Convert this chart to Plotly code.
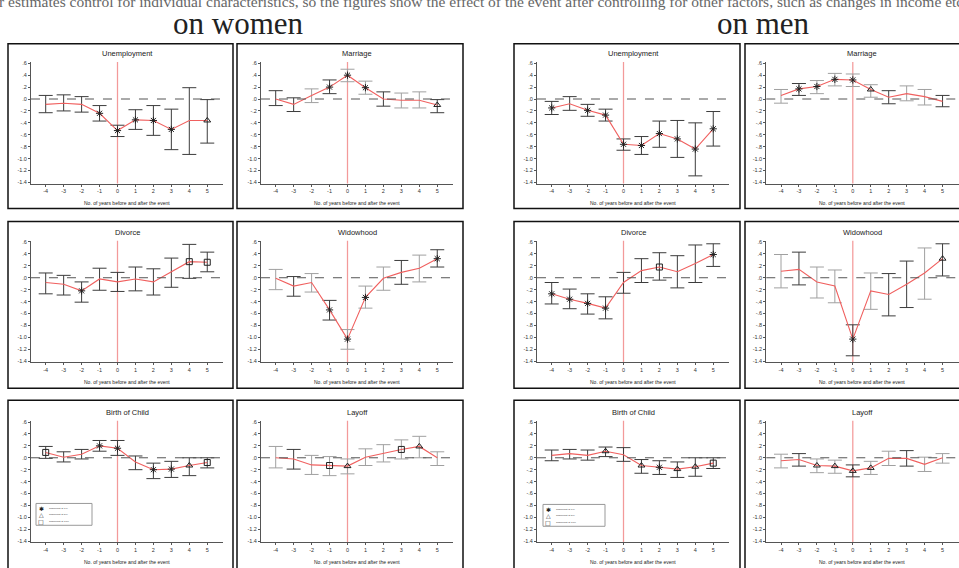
import plotly.graph_objects as go

W, H = 959, 568

YEARS = [-4, -3, -2, -1, 0, 1, 2, 3, 4, 5]
Y_TICKS = [0.6, 0.4, 0.2, 0.0, -0.2, -0.4, -0.6, -0.8, -1.0, -1.2, -1.4]
Y_TICK_LABELS = [".6", ".4", ".2", ".0", "-.2", "-.4", "-.6", "-.8", "-1.0", "-1.2", "-1.4"]
X_TICK_LABELS = ["-4", "-3", "-2", "-1", "0", "1", "2", "3", "4", "5"]

PANEL_TITLES = ["Unemployment", "Marriage", "Unemployment", "Marriage",
                "Divorce", "Widowhood", "Divorce", "Widowhood",
                "Birth of Child", "Layoff", "Birth of Child", "Layoff"]
X_TITLE = "No. of years before and after the event"
LEGEND_LABELS = ["Significant at 1%", "Significant at 5%", "Significant at 10%"]

# significance: 1 -> 1%, 5 -> 5%, 10 -> 10%, 0 -> not significant
# bar shade: "d" dark, "g" grey

# Women - Unemployment
W_UNEMP_EST = [-0.09, -0.07, -0.09, -0.24, -0.53, -0.35, -0.36, -0.51, -0.36, -0.36]
W_UNEMP_HI = [0.06, 0.07, 0.04, -0.11, -0.44, -0.18, -0.11, -0.17, 0.19, -0.01]
W_UNEMP_LO = [-0.23, -0.20, -0.22, -0.37, -0.63, -0.51, -0.61, -0.85, -0.93, -0.74]
W_UNEMP_SIG = [0, 0, 0, 1, 1, 1, 1, 1, 0, 5]
W_UNEMP_SHADE = ["d", "d", "d", "d", "d", "d", "d", "d", "d", "d"]

# Women - Marriage
W_MARR_EST = [0.00, -0.09, 0.06, 0.20, 0.40, 0.19, 0.00, -0.02, -0.02, -0.10]
W_MARR_HI = [0.14, 0.02, 0.17, 0.32, 0.50, 0.30, 0.12, 0.10, 0.12, -0.01]
W_MARR_LO = [-0.11, -0.21, -0.06, 0.09, 0.29, 0.08, -0.12, -0.15, -0.15, -0.23]
W_MARR_SIG = [0, 0, 0, 1, 1, 1, 0, 0, 0, 5]
W_MARR_SHADE = ["d", "d", "g", "d", "g", "g", "d", "g", "g", "d"]

# Men - Unemployment
M_UNEMP_EST = [-0.15, -0.08, -0.19, -0.27, -0.76, -0.78, -0.58, -0.67, -0.84, -0.50]
M_UNEMP_HI = [-0.04, 0.04, -0.09, -0.17, -0.67, -0.63, -0.37, -0.36, -0.40, -0.21]
M_UNEMP_LO = [-0.26, -0.19, -0.29, -0.37, -0.86, -0.93, -0.81, -0.98, -1.29, -0.79]
M_UNEMP_SIG = [1, 0, 1, 1, 1, 1, 1, 1, 1, 1]
M_UNEMP_SHADE = ["d", "d", "d", "d", "d", "d", "d", "d", "d", "d"]

# Men - Marriage
M_MARR_EST = [0.06, 0.17, 0.21, 0.33, 0.32, 0.16, 0.03, 0.09, 0.04, -0.04]
M_MARR_HI = [0.16, 0.26, 0.31, 0.43, 0.42, 0.24, 0.14, 0.22, 0.16, 0.06]
M_MARR_LO = [-0.07, 0.06, 0.09, 0.22, 0.21, 0.03, -0.08, -0.03, -0.10, -0.13]
M_MARR_SIG = [0, 1, 1, 1, 1, 5, 0, 0, 0, 0]
M_MARR_SHADE = ["g", "d", "g", "g", "g", "g", "d", "g", "g", "d"]

# Women - Divorce
W_DIV_EST = [-0.08, -0.11, -0.22, -0.02, -0.07, -0.02, -0.07, 0.10, 0.27, 0.26]
W_DIV_HI = [0.08, 0.04, -0.07, 0.16, 0.09, 0.18, 0.15, 0.33, 0.56, 0.43]
W_DIV_LO = [-0.27, -0.29, -0.41, -0.21, -0.23, -0.22, -0.29, -0.16, -0.01, 0.10]
W_DIV_SIG = [0, 0, 1, 0, 0, 0, 0, 0, 10, 10]
W_DIV_SHADE = ["d", "d", "d", "d", "d", "d", "d", "d", "d", "d"]

# Women - Widowhood
W_WID_EST = [-0.01, -0.14, -0.08, -0.54, -1.03, -0.33, -0.01, 0.09, 0.16, 0.32]
W_WID_HI = [0.14, 0.02, 0.07, -0.38, -0.87, -0.14, 0.18, 0.29, 0.38, 0.47]
W_WID_LO = [-0.20, -0.31, -0.24, -0.71, -1.20, -0.51, -0.21, -0.11, -0.07, 0.18]
W_WID_SIG = [0, 0, 0, 1, 1, 1, 0, 0, 0, 1]
W_WID_SHADE = ["g", "d", "g", "d", "g", "g", "g", "d", "g", "d"]

# Men - Divorce
M_DIV_EST = [-0.27, -0.36, -0.43, -0.51, -0.08, 0.12, 0.18, 0.10, 0.24, 0.39]
M_DIV_HI = [-0.08, -0.19, -0.27, -0.32, 0.09, 0.32, 0.42, 0.37, 0.55, 0.57]
M_DIV_LO = [-0.44, -0.52, -0.61, -0.69, -0.26, -0.08, -0.04, -0.17, -0.08, 0.19]
M_DIV_SIG = [1, 1, 1, 1, 0, 0, 10, 0, 0, 1]
M_DIV_SHADE = ["d", "d", "d", "d", "d", "d", "d", "d", "d", "d"]

# Men - Widowhood
M_WID_EST = [0.11, 0.14, -0.07, -0.14, -1.03, -0.22, -0.28, -0.11, 0.08, 0.32]
M_WID_HI = [0.39, 0.43, 0.18, 0.13, -0.79, 0.08, 0.07, 0.28, 0.50, 0.57]
M_WID_LO = [-0.17, -0.12, -0.34, -0.42, -1.31, -0.53, -0.64, -0.50, -0.36, 0.03]
M_WID_SIG = [0, 0, 0, 0, 1, 0, 0, 0, 0, 5]
M_WID_SHADE = ["g", "d", "g", "g", "d", "g", "d", "d", "g", "d"]

# Women - Birth of Child
W_BIRTH_EST = [0.09, 0.01, 0.06, 0.20, 0.16, -0.07, -0.20, -0.19, -0.13, -0.08]
W_BIRTH_HI = [0.19, 0.10, 0.14, 0.29, 0.29, 0.03, -0.09, -0.06, 0.00, 0.00]
W_BIRTH_LO = [-0.01, -0.07, -0.02, 0.11, 0.04, -0.20, -0.35, -0.33, -0.30, -0.17]
W_BIRTH_SIG = [10, 0, 0, 1, 1, 0, 1, 1, 5, 10]
W_BIRTH_SHADE = ["d", "d", "d", "d", "d", "d", "d", "d", "d", "d"]

# Women - Layoff
W_LAY_EST = [0.00, -0.02, -0.12, -0.13, -0.14, 0.01, 0.08, 0.14, 0.19, 0.00]
W_LAY_HI = [0.19, 0.14, 0.04, 0.02, -0.02, 0.15, 0.22, 0.30, 0.36, 0.10]
W_LAY_LO = [-0.17, -0.19, -0.28, -0.30, -0.27, -0.13, -0.07, -0.02, 0.00, -0.13]
W_LAY_SIG = [0, 0, 0, 10, 5, 0, 0, 10, 5, 0]
W_LAY_SHADE = ["g", "d", "g", "g", "g", "g", "g", "g", "g", "g"]

# Men - Birth of Child
M_BIRTH_EST = [0.04, 0.07, 0.04, 0.11, 0.05, -0.13, -0.16, -0.19, -0.15, -0.09]
M_BIRTH_HI = [0.13, 0.14, 0.13, 0.18, 0.17, -0.03, -0.05, -0.07, 0.00, 0.00]
M_BIRTH_LO = [-0.05, -0.02, -0.04, 0.02, -0.06, -0.26, -0.28, -0.33, -0.31, -0.18]
M_BIRTH_SIG = [0, 0, 0, 5, 0, 5, 1, 5, 5, 10]
M_BIRTH_SHADE = ["d", "d", "d", "d", "d", "d", "d", "d", "d", "d"]

# Men - Layoff
M_LAY_EST = [-0.05, -0.03, -0.13, -0.14, -0.22, -0.17, -0.01, -0.01, -0.11, 0.00]
M_LAY_HI = [0.06, 0.07, -0.02, -0.04, -0.12, -0.06, 0.11, 0.12, 0.01, 0.07]
M_LAY_LO = [-0.17, -0.14, -0.25, -0.26, -0.32, -0.28, -0.13, -0.14, -0.23, -0.09]
M_LAY_SIG = [0, 0, 5, 5, 5, 5, 0, 0, 0, 0]
M_LAY_SHADE = ["g", "d", "g", "g", "d", "g", "g", "d", "g", "g"]

PANELS = [
    (W_UNEMP_EST, W_UNEMP_LO, W_UNEMP_HI, W_UNEMP_SIG, W_UNEMP_SHADE),
    (W_MARR_EST, W_MARR_LO, W_MARR_HI, W_MARR_SIG, W_MARR_SHADE),
    (M_UNEMP_EST, M_UNEMP_LO, M_UNEMP_HI, M_UNEMP_SIG, M_UNEMP_SHADE),
    (M_MARR_EST, M_MARR_LO, M_MARR_HI, M_MARR_SIG, M_MARR_SHADE),
    (W_DIV_EST, W_DIV_LO, W_DIV_HI, W_DIV_SIG, W_DIV_SHADE),
    (W_WID_EST, W_WID_LO, W_WID_HI, W_WID_SIG, W_WID_SHADE),
    (M_DIV_EST, M_DIV_LO, M_DIV_HI, M_DIV_SIG, M_DIV_SHADE),
    (M_WID_EST, M_WID_LO, M_WID_HI, M_WID_SIG, M_WID_SHADE),
    (W_BIRTH_EST, W_BIRTH_LO, W_BIRTH_HI, W_BIRTH_SIG, W_BIRTH_SHADE),
    (W_LAY_EST, W_LAY_LO, W_LAY_HI, W_LAY_SIG, W_LAY_SHADE),
    (M_BIRTH_EST, M_BIRTH_LO, M_BIRTH_HI, M_BIRTH_SIG, M_BIRTH_SHADE),
    (M_LAY_EST, M_LAY_LO, M_LAY_HI, M_LAY_SIG, M_LAY_SHADE),
]

# ---------------- layout geometry (pixels) ----------------
COL_X4 = [45.7, 275.7, 551.7, 781.0]     # pixel of year -4
ROW_Y6 = [61.7, 241.7, 423.0]            # pixel of value .6
PX_YEAR = 17.95
PX_UNIT = 60.0
X_RANGE = [-4.82, 5.9]
Y_RANGE = [-1.42, 0.62]
COL_BOX = [(8, 233), (237, 463), (514, 740), (745, 968)]
ROW_BOX = [(42, 208), (221, 389), (401, 578)]

RED = "#f0605f"
PINK = "#f39a9a"
SHADES = {"d": "#3c3c3c", "g": "#a0a0a0"}
SYMBOLS = {1: "asterisk-open", 5: "triangle-up-open", 10: "square-open"}
FONT = "Liberation Sans, Arial, sans-serif"
SERIF = "Liberation Serif, Times New Roman, serif"


def px(x):
    return x / W


def py(y):
    return 1 - y / H


fig = go.Figure()
shapes = []
annotations = []
layout_axes = {}

for i, (est, lo, hi, sig, shade) in enumerate(PANELS):
    r, c = divmod(i, 4)
    n = i + 1
    xa = "x" if n == 1 else f"x{n}"
    ya = "y" if n == 1 else f"y{n}"
    x4 = COL_X4[c]
    y6 = ROW_Y6[r]
    left = x4 + (X_RANGE[0] + 4) * PX_YEAR
    right = x4 + (X_RANGE[1] + 4) * PX_YEAR
    top = y6 - (Y_RANGE[1] - 0.6) * PX_UNIT
    bottom = y6 + (0.6 - Y_RANGE[0]) * PX_UNIT
    dom_x = [max(0, px(left)), min(1, px(right))]
    dom_y = [py(bottom), py(top)]

    axis_common = dict(showline=True, linecolor="#555", linewidth=1, ticks="outside",
                       ticklen=2, tickwidth=1, tickcolor="#555", showgrid=False,
                       zeroline=False, showspikes=False,
                       tickfont=dict(size=5.5, color="#333", family=FONT),
                       fixedrange=True)
    layout_axes["xaxis" if n == 1 else f"xaxis{n}"] = dict(
        domain=dom_x, range=X_RANGE, anchor=ya, tickvals=YEARS, ticktext=X_TICK_LABELS,
        **axis_common)
    layout_axes["yaxis" if n == 1 else f"yaxis{n}"] = dict(
        domain=dom_y, range=Y_RANGE, anchor=xa, tickvals=Y_TICKS, ticktext=Y_TICK_LABELS,
        **axis_common)

    # error bars grouped by shade
    for key, col in SHADES.items():
        idx = [k for k, s in enumerate(shade) if s == key]
        if not idx:
            continue
        fig.add_trace(go.Scatter(
            x=[YEARS[k] for k in idx], y=[est[k] for k in idx], mode="markers",
            marker=dict(size=1, color="rgba(0,0,0,0)"), xaxis=xa, yaxis=ya,
            showlegend=False, hoverinfo="skip",
            error_y=dict(type="data", symmetric=False,
                         array=[hi[k] - est[k] for k in idx],
                         arrayminus=[est[k] - lo[k] for k in idx],
                         color=col, thickness=1, width=7)))

    # red estimate line
    fig.add_trace(go.Scatter(x=YEARS, y=est, mode="lines", line=dict(color=RED, width=1.1),
                             xaxis=xa, yaxis=ya, showlegend=False, hoverinfo="skip"))

    # significance markers
    for level, sym in SYMBOLS.items():
        idx = [k for k, s in enumerate(sig) if s == level]
        if not idx:
            continue
        fig.add_trace(go.Scatter(
            x=[YEARS[k] for k in idx], y=[est[k] for k in idx], mode="markers",
            marker=dict(symbol=sym, size=6, color="#222", line=dict(width=1, color="#222")),
            xaxis=xa, yaxis=ya, showlegend=False, hoverinfo="skip"))

    # event line at year 0 and dashed zero line
    shapes.append(dict(type="line", xref=xa, yref=f"{ya} domain", x0=0, x1=0, y0=0, y1=1,
                       line=dict(color=PINK, width=1.25), layer="below"))
    shapes.append(dict(type="line", xref=f"{xa} domain", yref=ya, x0=0, x1=1, y0=0, y1=0,
                       line=dict(color="#555", width=1, dash="dash"), layer="above"))

    # panel border
    bx0, bx1 = COL_BOX[c]
    by0, by1 = ROW_BOX[r]
    shapes.append(dict(type="rect", xref="paper", yref="paper", x0=px(bx0), x1=px(bx1),
                       y0=py(by1), y1=py(by0), line=dict(color="#111", width=1.5)))

    cx = (left + right) / 2
    annotations.append(dict(text=PANEL_TITLES[i], xref="paper", yref="paper", x=px(cx),
                            y=py(y6 - 10), showarrow=False, xanchor="center", yanchor="middle",
                            font=dict(size=7.5, color="#222", family=FONT)))
    annotations.append(dict(text=X_TITLE, xref="paper", yref="paper", x=px(cx),
                            y=py(y6 + 141), showarrow=False, xanchor="center", yanchor="middle",
                            font=dict(size=5, color="#222", family=FONT)))

# legend boxes in the "Birth of Child" panels
LEG_BOXES = [(36, 505, 92, 527), (543, 506, 605, 528)]
LEG_GLYPHS = ["✱", "△", "□"]
for (lx0, ly0, lx1, ly1) in LEG_BOXES:
    shapes.append(dict(type="rect", xref="paper", yref="paper", x0=px(lx0), x1=px(lx1),
                       y0=py(ly1), y1=py(ly0), line=dict(color="#999", width=1)))
    for j, (g, lab) in enumerate(zip(LEG_GLYPHS, LEGEND_LABELS)):
        yy = ly0 + 5 + j * 6.5
        annotations.append(dict(text=g, xref="paper", yref="paper", x=px(lx0 + 5), y=py(yy),
                                showarrow=False, xanchor="center", yanchor="middle",
                                font=dict(size=6, color="#222", family="DejaVu Sans")))
        annotations.append(dict(text=lab, xref="paper", yref="paper", x=px(lx0 + 11), y=py(yy),
                                showarrow=False, xanchor="left", yanchor="middle",
                                font=dict(size=2.5, color="#444", family=FONT)))

# page headings
annotations.append(dict(
    text="r estimates control for individual characteristics, so the figures show the effect of the event after controlling for other factors, such as changes in income etc.",
    xref="paper", yref="paper", x=px(-3), y=py(-1), xanchor="left", yanchor="middle",
    showarrow=False, font=dict(size=15.5, color="#666", family=SERIF)))
annotations.append(dict(text="on women", xref="paper", yref="paper", x=px(238), y=py(22),
                        xanchor="center", yanchor="middle", showarrow=False,
                        font=dict(size=31, color="#222", family=SERIF)))
annotations.append(dict(text="on men", xref="paper", yref="paper", x=px(763), y=py(22),
                        xanchor="center", yanchor="middle", showarrow=False,
                        font=dict(size=31, color="#222", family=SERIF)))

fig.update_layout(
    width=W, height=H, margin=dict(l=0, r=0, t=0, b=0),
    paper_bgcolor="white", plot_bgcolor="rgba(0,0,0,0)",
    showlegend=False, shapes=shapes, annotations=annotations, **layout_axes)

fig.write_html("out.html", config={"displayModeBar": False},
               post_script="document.body.style.margin='0';document.body.style.overflow='hidden';")
